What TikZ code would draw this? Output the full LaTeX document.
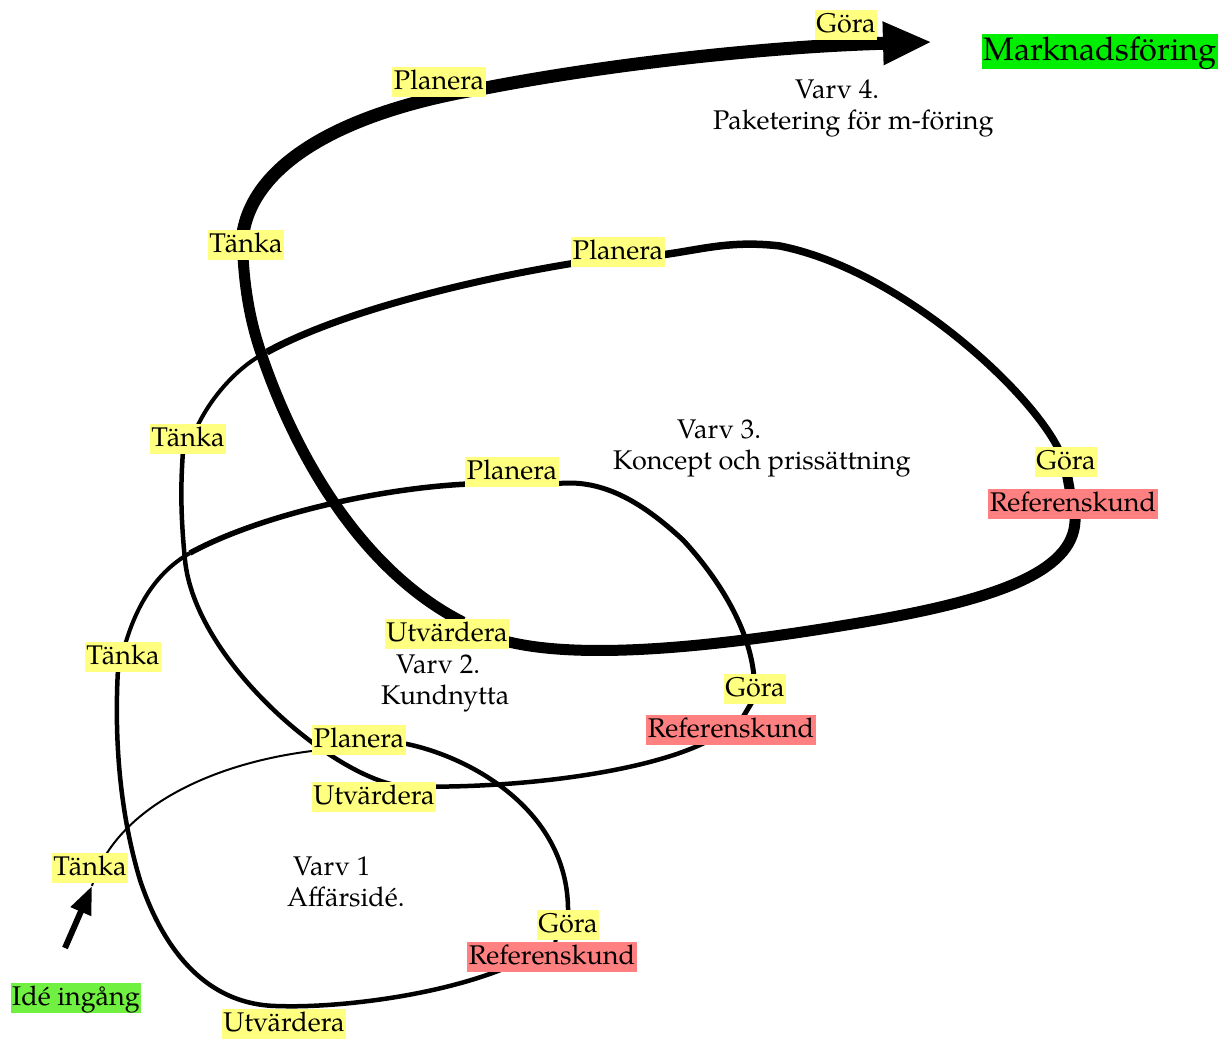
\documentclass[tikz,border=0pt]{standalone}
\usepackage{fontspec}
\setmainfont{texgyrepagella}[Extension=.otf, UprightFont=*-regular, BoldFont=*-bold, ItalicFont=*-italic, BoldItalicFont=*-bolditalic]
\usetikzlibrary{arrows.meta,calc}
\definecolor{lblyellow}{RGB}{255,255,128}
\definecolor{lblred}{RGB}{255,128,128}
\definecolor{idegreen}{RGB}{112,240,64}
\definecolor{mkgreen}{RGB}{0,238,0}
\pgfdeclarelayer{bg}
\pgfsetlayers{bg,main}
\tikzset{
  lbl/.style={inner xsep=1.5pt, inner ysep=0.5pt, text height=22pt, text depth=6.5pt,
    font=\fontsize{27}{31}\selectfont},
  phase/.style={lbl, fill=lblyellow},
  refk/.style={lbl, fill=lblred},
  varv/.style={align=left, inner sep=0pt, anchor=base west, font=\fontsize{27}{31}\selectfont},
}
\begin{document}
\begin{tikzpicture}[x=1pt,y=-1pt]
\useasboundingbox (0,0) rectangle (1224,1039);
% labels
\node[phase] (t1) at (90,868) {Tänka};
\node[phase] (p1) at (359,740) {Planera};
\node[phase] (g1) at (568,925) {Göra};
\node[refk]  (r1) at (552,957) {Referenskund};
\node[phase] (u1) at (284,1024) {Utvärdera};
\node[phase] (t2) at (123,657) {Tänka};
\node[phase] (p2) at (512,472) {Planera};
\node[phase] (g2) at (755,689) {Göra};
\node[refk]  (r2) at (731,730) {Referenskund};
\node[phase] (u2) at (374,797) {Utvärdera};
\node[phase] (t3) at (188,439) {Tänka};
\node[phase] (p3) at (618,252) {Planera};
\node[phase] (g3) at (1066,462) {Göra};
\node[refk]  (r3) at (1073,504) {Referenskund};
\node[phase] (u3) at (447,634) {Utvärdera};
\node[phase] (t4) at (246,245) {Tänka};
\node[phase] (p4) at (439,82) {Planera};
\node[phase] (g4) at (846,25) {Göra};
\node[lbl, fill=mkgreen, font=\fontsize{32.5}{36}\selectfont, text height=26pt, text depth=8pt] (mk) at (1100,51) {Marknadsföring};
\node[lbl, fill=idegreen] (ide) at (76,998) {Idé ingång};
% round titles (anchor = baseline of last line)
\node[varv] (v1) at (287,906) {\hspace*{6pt}Varv 1\\Affärsidé.};
\node[varv] (v2) at (381,704) {\hspace*{15pt}Varv 2.\\Kundnytta};
\node[varv] (v3) at (613,469) {\hspace*{64pt}Varv 3.\\Koncept och prissättning};
\node[varv] (v4) at (713,129) {\hspace*{82pt}Varv 4.\\Paketering för m-föring};

\begin{pgfonlayer}{bg}
\coordinate (start) at (65,948);
\coordinate (tip) at (932,42);
\coordinate (k2) at (190,553);
\coordinate (k3) at (267,352);
\coordinate (u1c) at ($(u1.north)+(-6,-3)$);
% loop 1
\draw[line width=6pt, -{Triangle[length=28pt,width=21pt]}] (start) -- ($(t1.south)+(2,3)$);
\draw[line width=2pt] ($(t1.south)+(2,3)$) .. controls (112,815) and (200,765) .. ($(p1.south west)+(0,-4)$);
\draw[line width=4.5pt] ($(p1.east)+(-4,3)$) .. controls (468,755) and (570,810) .. ($(g1.north)+(0,3)$);
\draw[line width=4pt] ($(g1.south)+(-12,-2)$) -- ($(r1.north)+(3,2)$);
\draw[line width=4.5pt] ($(r1.south west)+(36,-3)$) .. controls (430,998) and (330,1008) .. (u1c)
   .. controls (200,1005) and (160,940) .. (140,880)
   .. controls (125,830) and (113,760) .. ($(t2.south)+(-5,-3)$);
% loop 2
\draw[line width=4pt] ($(t2.north)+(2,3)$) .. controls (138,600) and (160,570) .. (k2);
\draw[line width=5.5pt] (k2) .. controls (260,515) and (380,488) .. ($(p2.south west)+(4,-3)$);
\draw[line width=5pt] ($(p2.south east)+(-4,-3)$) .. controls (600,478) and (640,500) .. (683,540)
   .. controls (720,580) and (750,630) .. ($(g2.north)+(-1,3)$);
\draw[line width=5pt] ($(g2.south)+(-3,-2)$) -- ($(r2.north)+(12,2)$);
\draw[line width=4.5pt] ($(r2.south west)+(60,-3)$) .. controls (640,775) and (500,790) .. (400,786)
   .. controls (330,775) and (195,660) .. (185,560)
   .. controls (180,510) and (181,480) .. ($(t3.south)+(-5,-3)$);
% loop 3
\draw[line width=4pt] ($(t3.north)+(9,3)$) .. controls (212,395) and (240,365) .. (k3);
\draw[line width=7pt] (k3) .. controls (340,312) and (470,280) .. ($(p3.south west)+(4,-4)$);
\draw[line width=7.5pt] ($(p3.east)+(-4,3)$) .. controls (700,250) and (730,240) .. (780,246)
   .. controls (900,270) and (1030,390) .. ($(g3.north)+(-7,3)$);
\draw[line width=10pt] ($(g3.south)+(1,-2)$) -- ($(r3.north)+(-3,2)$);
\draw[line width=11pt] ($(r3.south)+(2,-3)$) .. controls (1078,570) and (1000,598) .. (876,620)
   .. controls (760,640) and (590,665) .. ($(u3.east)+(-8,6)$);
% loop 4
\draw[line width=11pt] ($(u3.north)+(16,3)$) .. controls (370,575) and (300,470) .. (260,350)
   .. controls (250,320) and (245,290) .. ($(t4.south)+(-3,-3)$);
\draw[line width=13pt, -{Triangle[length=49pt,width=40pt]}] ($(t4.north)+(-3,3)$)
   .. controls (255,160) and (350,110) .. ($(p4.south east)+(0,-9)$)
   .. controls (620,62) and (780,46) .. (tip);
\end{pgfonlayer}
\end{tikzpicture}
\end{document}
